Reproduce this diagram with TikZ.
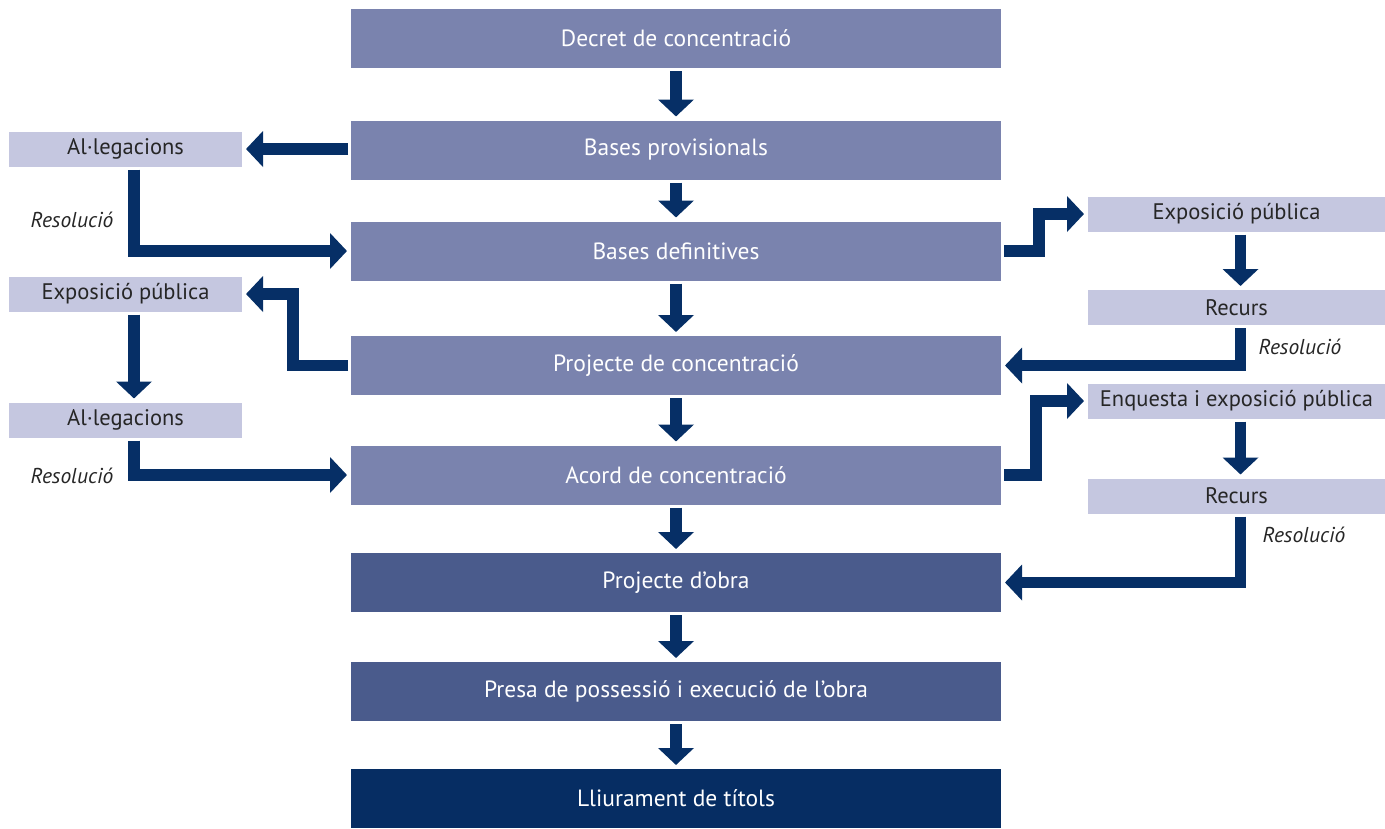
\documentclass[tikz,border=0pt]{standalone}
\usepackage{fontspec}
\setmainfont{PT Sans}
\usetikzlibrary{arrows.meta}
\definecolor{mainbox}{HTML}{7A83AE}
\definecolor{sidebox}{HTML}{C5C7E0}
\definecolor{darkbox}{HTML}{4A5B8C}
\definecolor{lastbox}{HTML}{062D63}
\definecolor{flowcol}{HTML}{062F66}
\tikzset{
  stage/.style={rectangle,fill=mainbox,text=white,minimum width=650pt,minimum height=59pt,inner sep=0pt,outer sep=0pt,font=\fontsize{23.5}{28}\selectfont},
  side/.style={rectangle,fill=sidebox,text=black!85,minimum height=35pt,inner sep=0pt,outer sep=0pt,font=\fontsize{22.5}{27}\selectfont},
  flow/.style={draw=flowcol,line width=11.5pt,line join=miter,-{Triangle[width=35pt,length=17pt]},shorten <=3pt,shorten >=4pt},
  note/.style={font=\fontsize{21.5}{25}\selectfont\itshape,text=black!85,inner sep=0pt}
}
\begin{document}
\begin{tikzpicture}[x=1pt,y=-1pt]
    \useasboundingbox (0,0) rectangle (1385,828);
    % main column
    \node[stage] (dc) at (676,38.5) {Decret de concentració};
    \node[stage] (bp) at (676,150) {Bases provisionals};
    \node[stage] (bd) at (676,251) {Bases definitives};
    \node[stage] (pc) at (676,365.5) {Projecte de concentració};
    \node[stage] (ac) at (676,475) {Acord de concentració};
    \node[stage,fill=darkbox] (po) at (676,582.5) {Projecte d’obra};
    \node[stage,fill=darkbox] (pe) at (676,691.5) {Presa de possessió i execució de l’obra};
    \node[stage,fill=lastbox] (ll) at (676,798.5) {Lliurament de títols};
    % left column
    \node[side,minimum width=233pt] (al1) at (125.5,149) {Al·legacions};
    \node[side,minimum width=233pt] (exl) at (125.5,294) {Exposició pública};
    \node[side,minimum width=233pt] (al2) at (125.5,420) {Al·legacions};
    % right column
    \node[side,minimum width=297pt] (exr) at (1236.5,214) {Exposició pública};
    \node[side,minimum width=297pt] (rc1) at (1236.5,307.5) {Recurs};
    \node[side,minimum width=297pt] (eq) at (1236.5,401) {Enquesta i exposició pública};
    \node[side,minimum width=297pt] (rc2) at (1236.5,496) {Recurs};
    % labels
    \node[note] (r1) at (72,220) {Resolució};
    \node[note] (r2) at (72,476) {Resolució};
    \node[note] (r3) at (1300,347) {Resolució};
    \node[note] (r4) at (1304,535) {Resolució};
    % main arrows
    \draw[flow] (dc) -- (bp);
    \draw[flow] (bp) -- (bd);
    \draw[flow] (bd) -- (pc);
    \draw[flow] (pc) -- (ac);
    \draw[flow] (ac) -- (po);
    \draw[flow] (po) -- (pe);
    \draw[flow] (pe) -- (ll);
    % left branch
    \draw[flow] (bp.west |- al1.east) -- (al1.east);
    \draw[flow] ([xshift=8.5pt]al1.south) |- (bd.west);
    \draw[flow] (pc.west) -- ++(-58,0) |- (exl.east);
    \draw[flow] ([xshift=8.5pt]exl.south) -- ([xshift=8.5pt]al2.north);
    \draw[flow] ([xshift=8.5pt]al2.south) |- (ac.west);
    % right branch
    \draw[flow] (bd.east) -- ++(38,0) |- (exr.west);
    \draw[flow] ([xshift=4pt]exr.south) -- ([xshift=4pt]rc1.north);
    \draw[flow] ([xshift=4pt]rc1.south) |- (pc.east);
    \draw[flow] (ac.east) -- ++(35,0) |- (eq.west);
    \draw[flow] ([xshift=4pt]eq.south) -- ([xshift=4pt]rc2.north);
    \draw[flow] ([xshift=4pt]rc2.south) |- (po.east);
\end{tikzpicture}
\end{document}
